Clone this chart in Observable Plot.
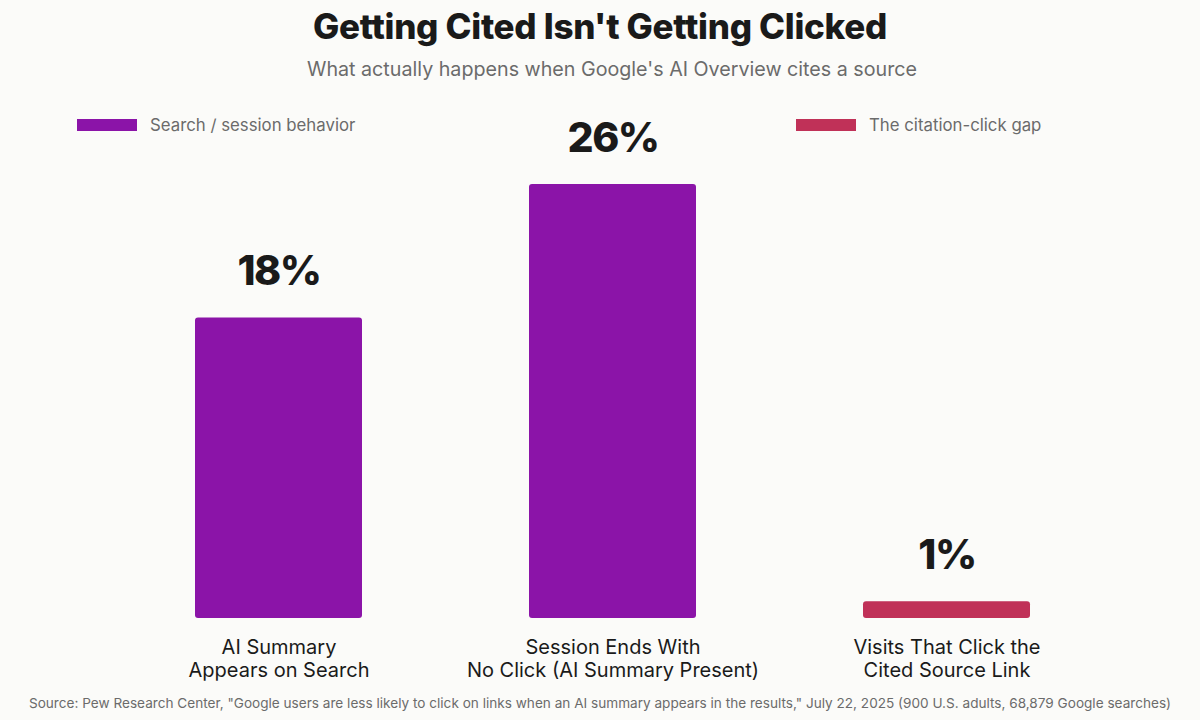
<!DOCTYPE html>
<html>
<head>
<meta charset="utf-8">
<script src="https://cdn.jsdelivr.net/npm/d3@7"></script>
<script src="https://cdn.jsdelivr.net/npm/@observablehq/plot@0.6"></script>
<style>
  html, body { margin: 0; padding: 0; background: #fbfbf9; }
  #wrap { position: relative; width: 1200px; height: 720px; font-family: Inter, "Noto Sans", sans-serif; }
  .title { position: absolute; left: 0; width: 1200px; top: 5px; text-align: center; font-size: 35px; font-weight: 800; color: #1a1a1a; letter-spacing: -0.3px; }
  .subtitle { position: absolute; left: 12px; width: 1200px; top: 57px; text-align: center; font-size: 19.7px; color: #6b6b6b; }
  .leg { position: absolute; top: 115px; display: flex; align-items: center; font-size: 16.8px; color: #6b6b6b; }
  .sw { width: 60px; height: 12px; margin-right: 13px; }
  .caption { position: absolute; left: 0; width: 1200px; top: 695px; text-align: center; font-size: 13.6px; color: #6b6b6b; }
  #chart { position: absolute; left: 0; top: 0; }
  .vlab text { letter-spacing: -1.5px; }
</style>
</head>
<body>
<div id="wrap">
  <div id="chart"></div>
  <div class="title">Getting Cited Isn't Getting Clicked</div>
  <div class="subtitle">What actually happens when Google's AI Overview cites a source</div>
  <div id="legend"></div>
  <div class="caption">Source: Pew Research Center, "Google users are less likely to click on links when an AI summary appears in the results," July 22, 2025 (900 U.S. adults, 68,879 Google searches)</div>
</div>
<script>
const categories = [
  "AI Summary\nAppears on Search",
  "Session Ends With\nNo Click (AI Summary Present)",
  "Visits That Click the\nCited Source Link"
];
const values = [18, 26, 1];
const groups = ["Search / session behavior", "Search / session behavior", "The citation-click gap"];
const groupNames = ["Search / session behavior", "The citation-click gap"];
const groupColors = ["#8b14a8", "#c03158"];

const data = categories.map((c, i) => ({cat: c, value: values[i], group: groups[i]}));

const chart = Plot.plot({
  width: 1200,
  height: 720,
  marginTop: 184,
  marginBottom: 102,
  marginLeft: 27,
  marginRight: 2,
  style: {background: "transparent", fontFamily: "Inter, 'Noto Sans', sans-serif"},
  x: {domain: categories, padding: 0.5, axis: null},
  y: {domain: [0, 26], axis: null},
  color: {domain: groupNames, range: groupColors},
  marks: [
    Plot.barY(data, {x: "cat", y: "value", fill: "group", rx: 3}),
    Plot.text(data, {x: "cat", y: "value", text: d => d.value + "%", dy: -46, fontSize: 41, fontWeight: 800, fill: "#1a1a1a", className: "vlab"}),
    Plot.text(data, {x: "cat", y: 0, text: "cat", dy: 19, lineAnchor: "top", lineHeight: 1.16, fontSize: 20, fill: "#1a1a1a"})
  ]
});
document.getElementById("chart").appendChild(chart);

const legendPos = [77, 796];
const legend = document.getElementById("legend");
groupNames.forEach((g, i) => {
  const el = document.createElement("div");
  el.className = "leg";
  el.style.left = legendPos[i] + "px";
  el.innerHTML = `<div class="sw" style="background:${groupColors[i]}"></div><span>${g}</span>`;
  legend.appendChild(el);
});
</script>
</body>
</html>
